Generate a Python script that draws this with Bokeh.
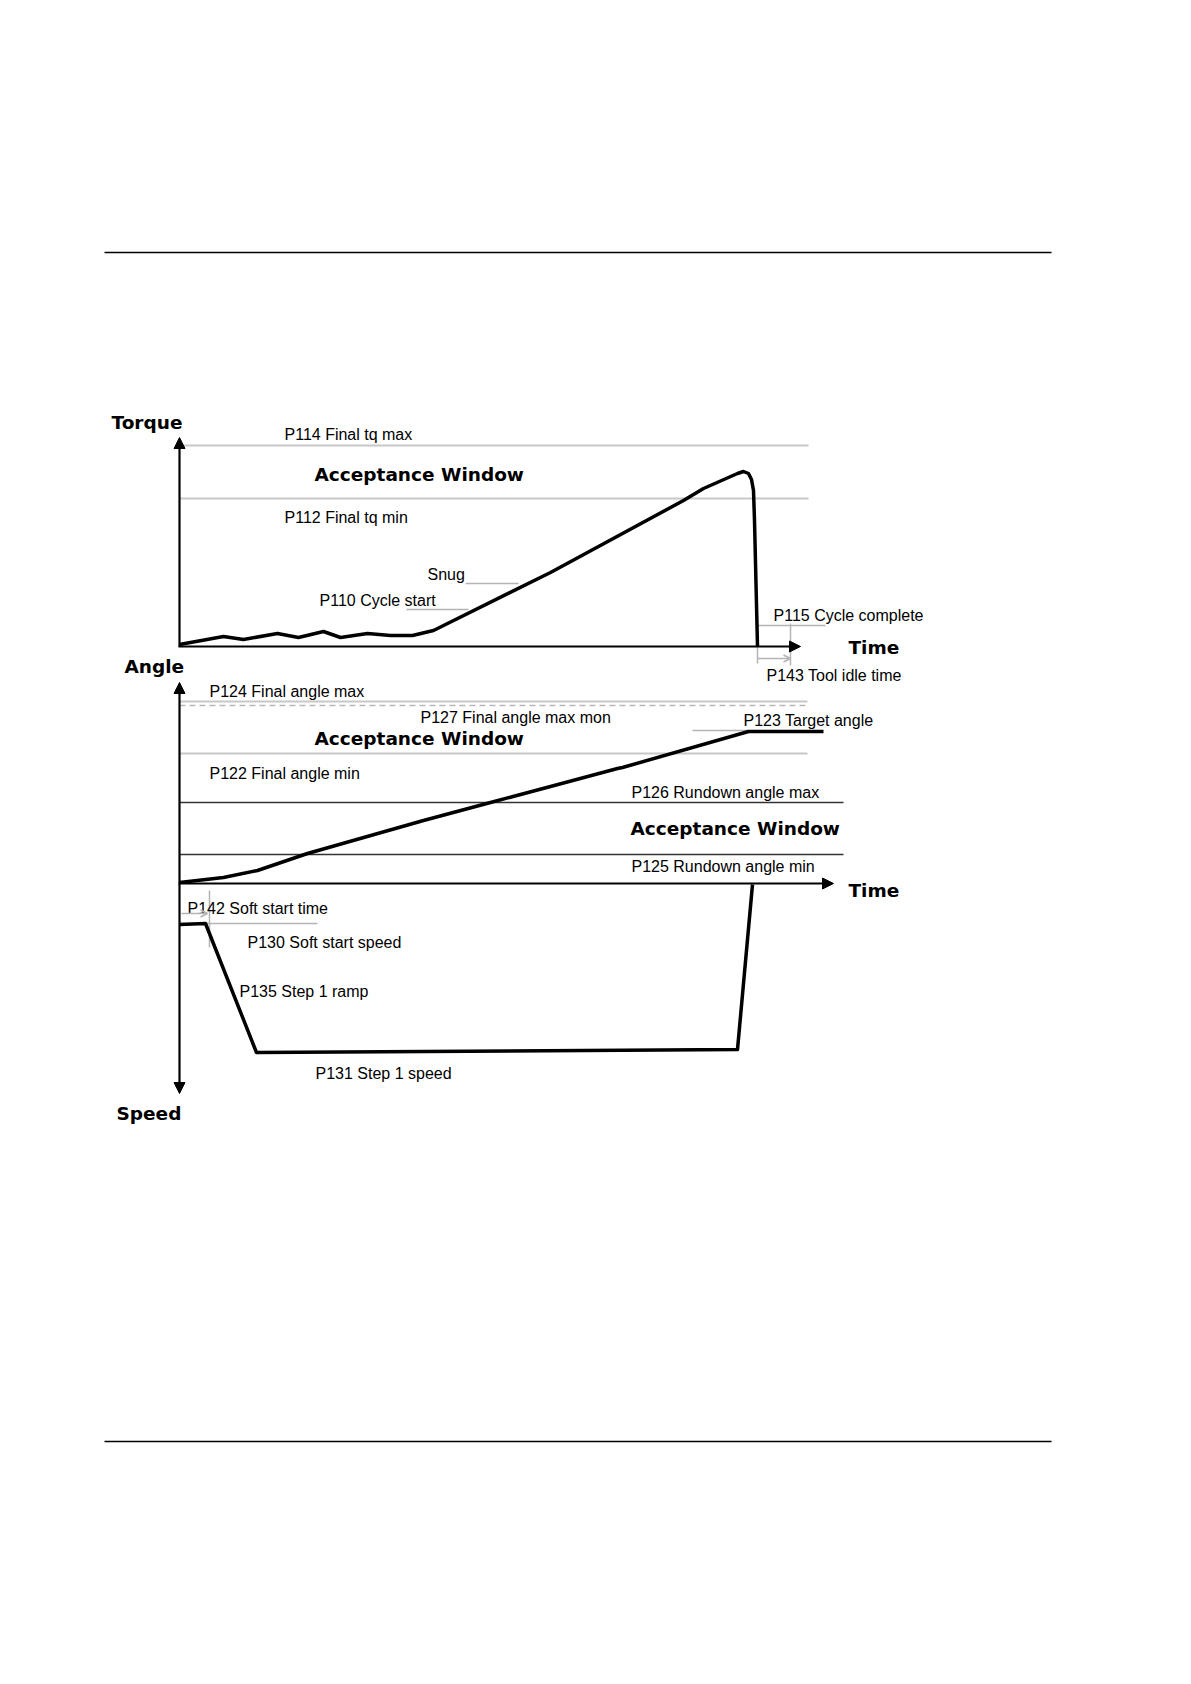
from bokeh.plotting import figure
from bokeh.models import Range1d, Arrow, NormalHead, OpenHead
from bokeh.core.properties import value
from bokeh.embed import file_html
from bokeh.resources import INLINE

# ---------------- data (diagram units, y grows downward) ----------------
# Torque curve
torque_time = [179, 223, 243, 277, 298, 323, 340, 367, 390, 412, 433, 550, 683, 703, 737, 743, 748, 751, 753, 754, 757]
torque_value = [644, 636, 639, 633, 637, 631, 637, 633, 635, 635, 630, 572, 500, 488, 473, 471, 473, 479, 490, 520, 646]

# Angle curve
angle_time = [179, 223, 257, 307, 423, 490, 550, 617, 622, 748, 823]
angle_value = [882, 877, 870, 853, 820, 802, 786, 768, 767, 731, 731]

# Speed curve
speed_time = [179, 205, 256, 737, 752]
speed_value = [924, 923, 1052, 1049, 884]

# Limit lines (level, start, end)
light_levels = [445, 498, 701, 753]
light_start = [179, 179, 179, 179]
light_end = [808, 808, 807, 807]
dashed_level = [705]
dark_levels = [802, 854]
dark_start = [179, 179]
dark_end = [843, 843]

# Leader lines
lead_x0 = [465, 406, 757, 790, 757, 692, 209, 179]
lead_y0 = [583, 609, 625, 623, 646, 730, 890, 923]
lead_x1 = [518, 468, 825, 790, 757, 748, 209, 317]
lead_y1 = [583, 609, 625, 665, 663, 730, 947, 923]

# Parameter labels
label_text = ["P114 Final tq max", "P112 Final tq min", "Snug", "P110 Cycle start",
              "P115 Cycle complete", "P143 Tool idle time", "P124 Final angle max",
              "P127 Final angle max mon", "P123 Target angle", "P122 Final angle min",
              "P126 Rundown angle max", "P125 Rundown angle min", "P142 Soft start time",
              "P130 Soft start speed", "P135 Step 1 ramp", "P131 Step 1 speed"]
label_x = [284, 284, 427, 319, 773, 766, 209, 420, 743, 209, 631, 631, 187, 247, 239, 315]
label_y = [434, 517, 574, 600, 615, 675, 691, 717, 720, 773, 792, 866, 908, 942, 991, 1073]

# Bold titles
title_text = ["Torque", "Acceptance Window", "Time", "Angle", "Acceptance Window",
              "Acceptance Window", "Time", "Speed"]
title_x = [111, 314, 848, 124, 314, 630, 848, 116]
title_y = [422, 474, 647, 666, 738, 828, 890, 1113]

# Page rules
rule_y = [252, 1441]
rule_x0 = [104, 104]
rule_x1 = [1051, 1051]

# ---------------- figure ----------------
W, H = 1170, 1664
p = figure(width=W, height=H, x_range=Range1d(0, W), y_range=Range1d(H, 0),
           output_backend="svg", toolbar_location=None, min_border=0,
           x_axis_location=None, y_axis_location=None)
p.grid.visible = False
p.outline_line_color = None
p.background_fill_color = "white"
p.border_fill_color = "white"

# page rules
p.segment(x0=rule_x0, y0=rule_y, x1=rule_x1, y1=rule_y, line_color="black", line_width=1.5)

# limit lines
p.segment(x0=light_start, y0=light_levels, x1=light_end, y1=light_levels,
          line_color="#c8c8c8", line_width=2)
p.segment(x0=[179], y0=dashed_level, x1=[807], y1=dashed_level,
          line_color="#b8b8b8", line_width=1.5, line_dash="6 4")
p.segment(x0=dark_start, y0=dark_levels, x1=dark_end, y1=dark_levels,
          line_color="#333333", line_width=1.5)

# leader lines
p.segment(x0=lead_x0, y0=lead_y0, x1=lead_x1, y1=lead_y1, line_color="#b4b4b4", line_width=1.5)

# axes with arrows
def axis_arrow(x0, y0, x1, y1):
    p.add_layout(Arrow(x_start=x0, y_start=y0, x_end=x1, y_end=y1,
                       line_color="black", line_width=2.2,
                       end=NormalHead(size=11, fill_color="black", line_color="black")))

axis_arrow(179, 646, 179, 437)
axis_arrow(178, 646, 800, 646)
axis_arrow(179, 883, 179, 682)
axis_arrow(179, 883, 179, 1093)
axis_arrow(178, 883, 833, 883)

# small gray time arrows
for (x0, y0, x1, y1) in [(757, 658, 790, 658), (181, 913, 207, 913)]:
    p.add_layout(Arrow(x_start=x0, y_start=y0, x_end=x1, y_end=y1,
                       line_color="#b4b4b4", line_width=1.5,
                       end=OpenHead(size=7, line_color="#b4b4b4", line_width=1.5)))

# curves
p.line(torque_time, torque_value, line_color="black", line_width=3.5, line_join="round")
p.line(angle_time, angle_value, line_color="black", line_width=3.5, line_join="round")
p.line(speed_time, speed_value, line_color="black", line_width=3.5, line_join="round")

# texts
p.text(x=label_x, y=label_y, text=label_text, text_font=value("Liberation Sans"),
       text_font_size="16px", text_color="black", text_baseline="middle", text_align="left")
p.text(x=title_x, y=title_y, text=title_text, text_font=value("DejaVu Sans"),
       text_font_size="18.5px", text_font_style="bold", text_color="black",
       text_baseline="middle", text_align="left")

open("out.html", "w").write(file_html(p, INLINE))
